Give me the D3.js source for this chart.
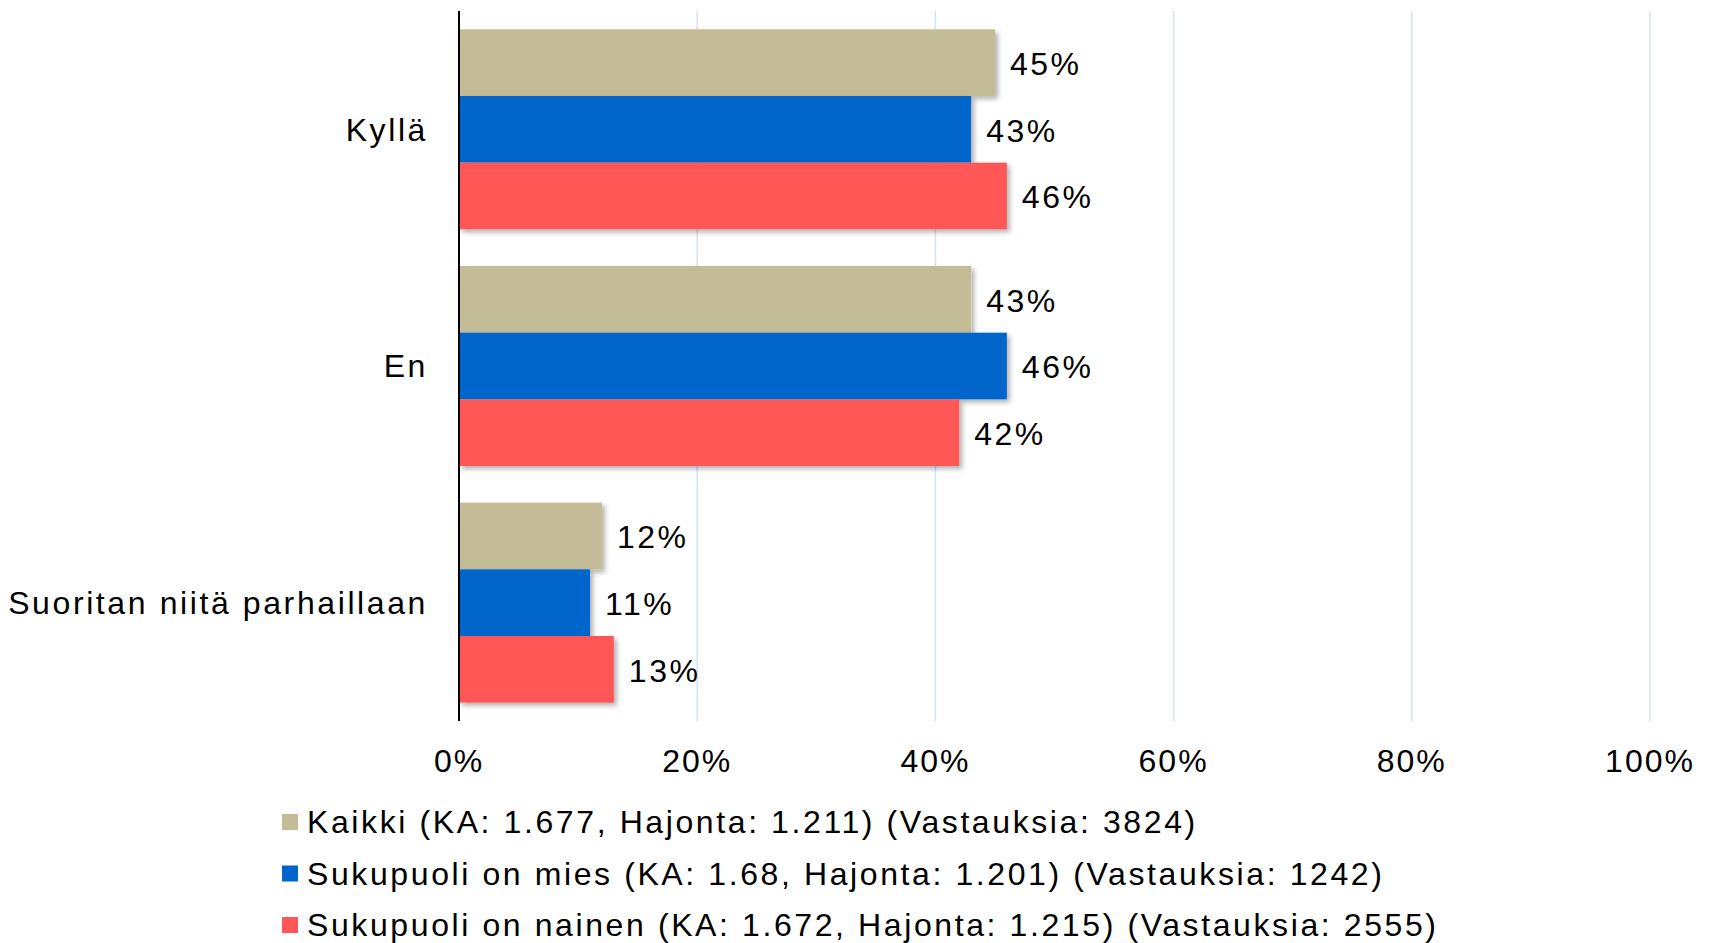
<!DOCTYPE html>
<html>
<head>
<meta charset="utf-8">
<script src="https://cdn.jsdelivr.net/npm/d3@7"></script>
<style>
  body { margin: 0; background: #fff; }
  text { font-family: "Liberation Sans", Arial, sans-serif; fill: #000; }
</style>
</head>
<body>
<div id="chart"></div>
<script>
// Categories (answers) and series
var categories = ["Kyllä", "En", "Suoritan niitä parhaillaan"];
var seriesNames = [
  "Kaikki (KA: 1.677, Hajonta: 1.211) (Vastauksia: 3824)",
  "Sukupuoli on mies (KA: 1.68, Hajonta: 1.201) (Vastauksia: 1242)",
  "Sukupuoli on nainen (KA: 1.672, Hajonta: 1.215) (Vastauksia: 2555)"
];
var kaikki = [45, 43, 12];
var mies = [43, 46, 11];
var nainen = [46, 42, 13];
var xTicks = [0, 20, 40, 60, 80, 100];

var colors = ["#C4BC97", "#0066CC", "#FF5757"];

var width = 1713,
  height = 943;
var margin = { top: 11, right: 63, bottom: 222, left: 459 };
var innerW = width - margin.left - margin.right,
  innerH = height - margin.top - margin.bottom;

var svg = d3
  .select("#chart")
  .append("svg")
  .attr("width", width)
  .attr("height", height);

// soft shadow under the bars
var defs = svg.append("defs");
defs
  .append("filter")
  .attr("id", "shadow")
  .attr("x", "-5%")
  .attr("y", "-10%")
  .attr("width", "120%")
  .attr("height", "140%")
  .append("feDropShadow")
  .attr("dx", 3)
  .attr("dy", 3)
  .attr("stdDeviation", 2.5)
  .attr("flood-color", "#000")
  .attr("flood-opacity", 0.3);

var g = svg
  .append("g")
  .attr("transform", "translate(" + margin.left + "," + margin.top + ")");

var x = d3.scaleLinear().domain([0, 100]).range([0, innerW]);

var y = d3
  .scaleBand()
  .domain(categories)
  .range([0, innerH])
  .paddingInner(0.155)
  .paddingOuter(0.0775);

var ySub = d3
  .scaleBand()
  .domain([0, 1, 2])
  .range([0, y.bandwidth()]);

// gridlines
g.append("g")
  .selectAll("line")
  .data(xTicks.filter((d) => d > 0))
  .join("line")
  .attr("x1", (d) => x(d))
  .attr("x2", (d) => x(d))
  .attr("y1", 0)
  .attr("y2", innerH)
  .attr("stroke", "#D8E2EE")
  .attr("stroke-width", 1.5);

// x tick labels
g.append("g")
  .selectAll("text")
  .data(xTicks)
  .join("text")
  .attr("x", (d) => x(d))
  .attr("y", innerH + 40)
  .attr("dy", "0.35em")
  .attr("text-anchor", "middle")
  .style("font-size", "32px")
  .style("letter-spacing", "2px")
  .text((d) => d + "%");

var rows = [];
categories.forEach(function (c, i) {
  [kaikki, mies, nainen].forEach(function (s, j) {
    rows.push({ cat: c, series: j, value: s[i] });
  });
});

// bars
g.append("g")
  .selectAll("rect")
  .data(rows)
  .join("rect")
  .attr("x", 0)
  .attr("y", (d) => y(d.cat) + ySub(d.series))
  .attr("width", (d) => x(d.value))
  .attr("height", ySub.bandwidth())
  .attr("fill", (d) => colors[d.series])
  .attr("filter", "url(#shadow)");

// value labels
g.append("g")
  .selectAll("text")
  .data(rows)
  .join("text")
  .attr("x", (d) => x(d.value) + 15)
  .attr("y", (d) => y(d.cat) + ySub(d.series) + ySub.bandwidth() / 2 + 1)
  .attr("dy", "0.35em")
  .style("font-size", "32px")
  .style("letter-spacing", "2.5px")
  .text((d) => d.value + "%");

// category labels
g.append("g")
  .selectAll("text")
  .data(categories)
  .join("text")
  .attr("x", -31)
  .attr("y", (d) => y(d) + y.bandwidth() / 2)
  .attr("dy", "0.35em")
  .attr("text-anchor", "end")
  .style("font-size", "32px")
  .style("letter-spacing", "2.6px")
  .text((d) => d);

// vertical axis line
g.append("line")
  .attr("x1", 0)
  .attr("x2", 0)
  .attr("y1", 0)
  .attr("y2", innerH)
  .attr("stroke", "#000")
  .attr("stroke-width", 2);

// legend
var legend = svg
  .append("g")
  .selectAll("g")
  .data(seriesNames)
  .join("g")
  .attr("transform", (d, i) => "translate(282," + (822 + i * 51.5) + ")");

legend
  .append("rect")
  .attr("x", 0)
  .attr("y", -8)
  .attr("width", 16)
  .attr("height", 16)
  .attr("fill", (d, i) => colors[i]);

legend
  .append("text")
  .attr("x", 25)
  .attr("y", 0)
  .attr("dy", "0.35em")
  .style("font-size", "32px")
  .style("letter-spacing", "2.6px")
  .text((d) => d);
</script>
</body>
</html>
